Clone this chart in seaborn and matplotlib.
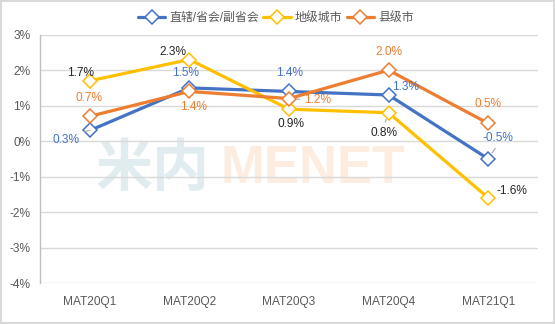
import matplotlib
matplotlib.use("Agg")
import matplotlib.pyplot as plt
import seaborn as sns
import pandas as pd

# Quarterly growth rates (%) by city tier
quarters = ["MAT20Q1", "MAT20Q2", "MAT20Q3", "MAT20Q4", "MAT21Q1"]
tier1 = [0.3, 1.5, 1.4, 1.3, -0.5]       # 直辖/省会/副省会
prefecture = [1.7, 2.3, 0.9, 0.8, -1.6]  # 地级城市
county = [0.7, 1.4, 1.2, 2.0, 0.5]       # 县级市
series_names = ["直辖/省会/副省会", "地级城市", "县级市"]
yticks = [3, 2, 1, 0, -1, -2, -3, -4]

sns.set_theme(style="white")
plt.rcParams["font.family"] = ["Liberation Sans", "Noto Sans CJK SC", "DejaVu Sans"]

colors = ["#4472C4", "#FFC000", "#ED7D31"]
label_colors = ["#4472C4", "#262626", "#ED7D31"]
text_gray = "#595959"
fs = 8.6

fig = plt.figure(figsize=(5.55, 3.24), dpi=100)
fig.patch.set_edgecolor("#D9D9D9")
fig.patch.set_linewidth(1.5)
ax = fig.add_axes([40 / 555, 1 - 283 / 324, 498 / 555, (283 - 34.7) / 324])

# faint brand watermark behind the data
ax.text(0.34, 0.46, "米内", transform=ax.transAxes, ha="right", va="center",
        fontsize=41, color="#E0ECEF", fontweight="bold",
        family=["Noto Sans CJK SC"], zorder=0)
ax.text(0.363, 0.46, "MENET", transform=ax.transAxes, ha="left", va="center",
        fontsize=38, color="#FDECE0", fontweight="bold",
        family=["Liberation Sans"], zorder=0)

x = list(range(len(quarters)))
all_series = [tier1, prefecture, county]
for vals, name, c in zip(all_series, series_names, colors):
    df = pd.DataFrame({"q": x, "v": vals})
    sns.lineplot(data=df, x="q", y="v", ax=ax, color=c, lw=2.3, marker="D",
                 markersize=6.8, markerfacecolor="white", markeredgecolor=c,
                 markeredgewidth=1.1, label=name, zorder=3)

# label offsets in pixels (dx, dy) and optional leader line anchor
offsets = [
    [(-24, -10, (0.5, 1.0)), (-4, 15, None), (1, 18, (0.5, 0.0)), (17, 8, None), (10, 21, (0.5, 0.0))],
    [(-9, 8, None), (-16, 8, None), (2, -15, None), (-5, -20, (0.5, 1.0)), (24, 7, None)],
    [(-1, 18, None), (4, -16, None), (29, -1, (0.0, 0.5)), (0, 18, None), (0, 19, None)],
]
for vals, offs, lc in zip(all_series, offsets, label_colors):
    for xi, v, (dx, dy, rel) in zip(x, vals, offs):
        kw = {}
        if rel is not None:
            kw["arrowprops"] = dict(arrowstyle="-", color="#A6A6A6", lw=0.8,
                                    relpos=rel, shrinkA=1, shrinkB=5)
        ax.annotate(f"{v:.1f}%", xy=(xi, v), xytext=(dx, dy),
                    textcoords="offset pixels", ha="center", va="center",
                    fontsize=fs, color=lc, zorder=4, **kw)

ax.set_xlim(-0.5, 4.5)
ax.set_ylim(-4, 3)
ax.set_xticks(x)
ax.set_xticklabels(quarters)
ax.set_yticks(yticks)
ax.set_yticklabels([f"{t}%" for t in yticks])
ax.set_xlabel("")
ax.set_ylabel("")
ax.tick_params(axis="both", labelsize=fs, colors=text_gray, length=0)
ax.tick_params(axis="x", pad=9)
ax.tick_params(axis="y", pad=7)
ax.yaxis.grid(True, color="#D9D9D9", lw=1)
ax.xaxis.grid(False)
for s in ["top", "right", "bottom"]:
    ax.spines[s].set_visible(False)
ax.spines["left"].set_color("#BFBFBF")
ax.spines["left"].set_linewidth(1)

leg = ax.legend(loc="center", bbox_to_anchor=(276 / 555, 1 - 18 / 324),
                bbox_transform=fig.transFigure, ncol=3, frameon=False,
                fontsize=fs, handlelength=2.3, handletextpad=0.35,
                columnspacing=0.35, borderaxespad=0)
for t in leg.get_texts():
    t.set_color(text_gray)

fig.savefig("out.png", dpi=100, facecolor="white", edgecolor=fig.patch.get_edgecolor())
